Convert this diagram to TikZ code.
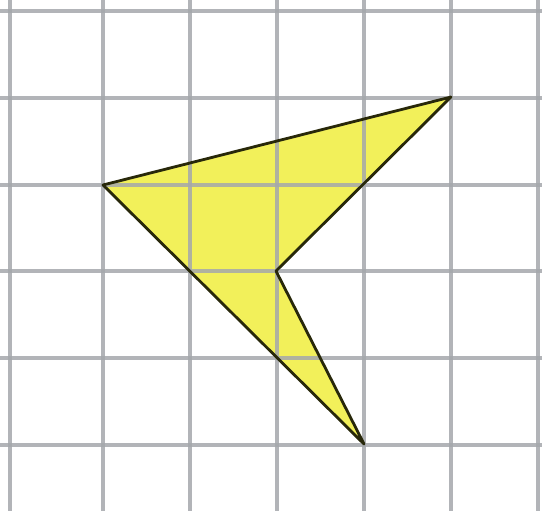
\documentclass[tikz,border=0pt]{standalone}
\definecolor{gridgray}{RGB}{165,168,172}
\definecolor{shapefill}{RGB}{242,240,90}
\definecolor{shapeedge}{RGB}{40,40,10}
\tikzset{
  gridline/.style={draw=gridgray, line width=4pt},
  shapeline/.style={draw=shapeedge, line width=2.8pt, line join=round},
}
\begin{document}
\begin{tikzpicture}[x=1pt,y=-1pt]
\useasboundingbox (0,0) rectangle (542,511);
\fill[white] (0,0) rectangle (542,511);
\coordinate (A) at (451,97);
\coordinate (B) at (103,185);
\coordinate (C) at (276,271);
\coordinate (D) at (364,444);
\fill[shapefill] (A) -- (B) -- (D) -- (C) -- cycle;
\foreach \x in {10,103,190,277,364,451,538} {
  \draw[gridline, opacity=0.85] (\x,0) -- (\x,511);
}
\foreach \y in {11,98,185,271,358,445} {
  \draw[gridline, opacity=0.85] (0,\y) -- (542,\y);
}
\draw[shapeline] (A) -- (B) -- (D) -- (C) -- cycle;
\end{tikzpicture}
\end{document}
